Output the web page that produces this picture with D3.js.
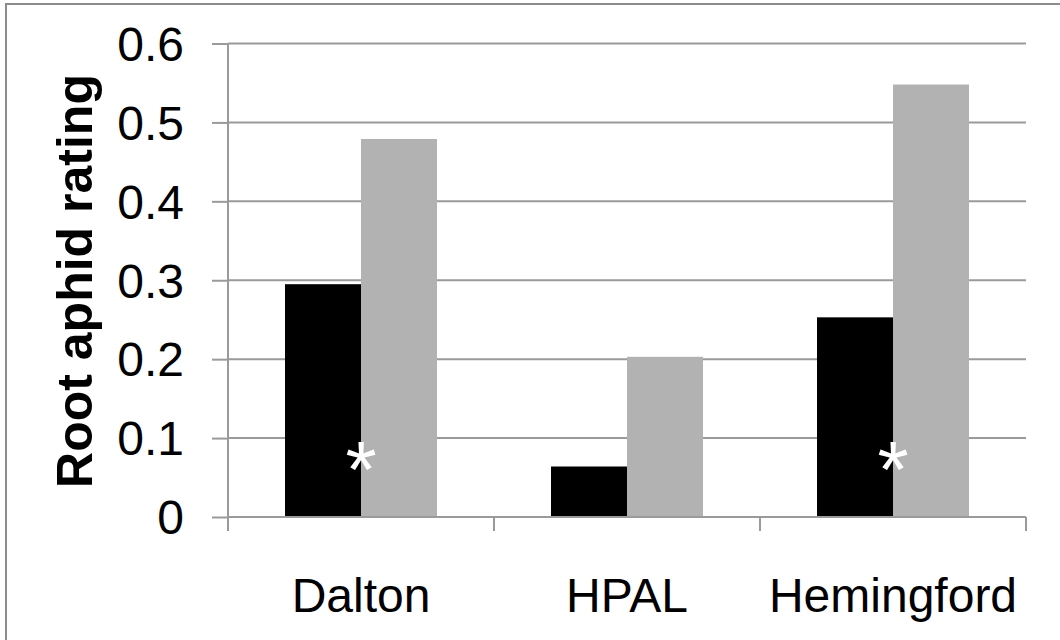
<!DOCTYPE html>
<html><head><meta charset="utf-8">
<script src="https://cdn.jsdelivr.net/npm/d3@7"></script>
<style>html,body{margin:0;padding:0;background:#fff;}svg{display:block;}</style>
</head><body>
<svg id="chart" width="1060" height="640"></svg>
<script>
const categories = ["Dalton", "HPAL", "Hemingford"];
const seriesNames = ["A", "B"];
const seriesA = [0.295, 0.064, 0.253];
const seriesB = [0.479, 0.203, 0.548];
const significant = [true, false, true];
const yTicks = [0, 0.1, 0.2, 0.3, 0.4, 0.5, 0.6];
const yTickLabels = ["0", "0.1", "0.2", "0.3", "0.4", "0.5", "0.6"];
const yTitle = "Root aphid rating";

const svg = d3.select("#chart");
const font = "Liberation Sans, Arial, Helvetica, sans-serif";
const m = {left: 228, right: 1026, top: 43.5, bottom: 517};

svg.append("rect").attr("x", 6).attr("y", 4).attr("width", 1100).attr("height", 700)
  .attr("fill", "#fff").attr("stroke", "#8c8c8c").attr("stroke-width", 2);

const x = d3.scaleBand().domain(categories).range([m.left, m.right]).paddingInner(0).paddingOuter(0);
// group width = 2 bars; gap = 1.5 bars -> outer padding 0.75 bar each side
const inner = d3.scaleBand().domain(seriesNames).range([0, x.bandwidth()]).paddingInner(0).paddingOuter(0.75);
const y = d3.scaleLinear().domain([0, 0.6]).range([m.bottom, m.top]);

// gridlines
svg.append("g").selectAll("line").data(yTicks.filter(d => d > 0)).join("line")
  .attr("x1", m.left).attr("x2", m.right)
  .attr("y1", d => y(d)).attr("y2", d => y(d))
  .attr("stroke", "#9a9a9a").attr("stroke-width", 2);

// bars
const data = categories.map((c, i) => ({c, vals: [seriesA[i], seriesB[i]], sig: significant[i]}));
const colors = ["#000000", "#b2b2b2"];
const g = svg.append("g").selectAll("g").data(data).join("g")
  .attr("transform", d => `translate(${x(d.c)},0)`);
g.selectAll("rect").data(d => d.vals.map((v, k) => ({v, k}))).join("rect")
  .attr("x", d => inner(seriesNames[d.k]))
  .attr("width", inner.bandwidth())
  .attr("y", d => y(d.v))
  .attr("height", d => y(0) - y(d.v))
  .attr("fill", d => colors[d.k]);

// asterisks
g.filter(d => d.sig).append("text")
  .attr("x", x.bandwidth() / 2)
  .attr("y", 497)
  .attr("text-anchor", "middle")
  .attr("font-family", font).attr("font-size", 80)
  .attr("fill", "#fff").text("*");

// y axis
const yAxis = d3.axisLeft(y).tickValues(yTicks).tickFormat((d, i) => yTickLabels[i]).tickSize(16).tickPadding(28);
const ya = svg.append("g").attr("transform", `translate(${m.left},0)`).call(yAxis);
ya.select(".domain").attr("stroke", "#9a9a9a").attr("stroke-width", 2).attr("d", `M0,${m.top}V${m.bottom + 14}`);
ya.selectAll(".tick line").attr("stroke", "#9a9a9a").attr("stroke-width", 2);
ya.selectAll(".tick text").attr("font-family", font).attr("font-size", 48).attr("fill", "#000").attr("dy", "0.35em");

// x axis
const xAxis = d3.axisBottom(x).tickSize(0).tickPadding(0);
const xa = svg.append("g").attr("transform", `translate(0,${m.bottom})`).call(xAxis);
xa.select(".domain").attr("stroke", "#9a9a9a").attr("stroke-width", 2).attr("d", `M${m.left},0H${m.right}`);
xa.selectAll(".tick text").attr("font-family", font).attr("font-size", 48).attr("fill", "#000").attr("y", 95).attr("dy", 0);
const xBoundaries = categories.map(c => x(c)).concat([m.right]);
xa.append("g").selectAll("line").data(xBoundaries).join("line")
  .attr("x1", d => d).attr("x2", d => d).attr("y1", 0).attr("y2", 14)
  .attr("stroke", "#9a9a9a").attr("stroke-width", 2);

// y title
svg.append("text")
  .attr("transform", `translate(92,${(487 + 75) / 2}) rotate(-90)`)
  .attr("text-anchor", "middle")
  .attr("font-family", font).attr("font-size", 50).attr("font-weight", "bold")
  .attr("fill", "#000").text(yTitle);
</script>
</body></html>
